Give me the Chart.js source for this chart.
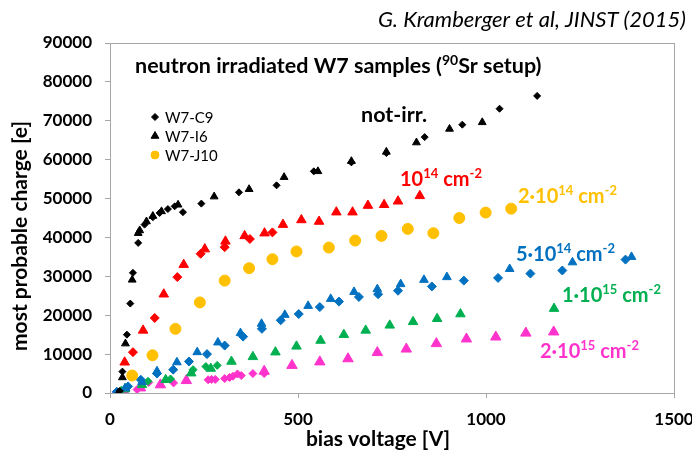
<!DOCTYPE html>
<html>
<head>
<meta charset="utf-8">
<script src="https://cdn.jsdelivr.net/npm/chart.js@4.4.1/dist/chart.umd.min.js"></script>
<style>
  html, body { margin: 0; padding: 0; background: #fff; }
  #wrap { width: 692px; height: 453px; }
</style>
</head>
<body>
<div id="wrap"><canvas id="myChart" width="692" height="453"></canvas></div>
<script>
// W7-C9 (diamonds) and W7-I6 (triangles), per fluence; W7-J10 (circles) only at 2e14
const c9NotIrrV = [26, 33, 45, 54, 61, 75, 92, 114, 132, 154, 172, 194, 243, 343, 443, 542, 642, 735, 837, 937, 1036, 1136];
const c9NotIrrQ = [500, 5500, 15000, 23000, 30900, 38600, 43300, 45200, 46300, 47300, 48000, 46500, 48700, 51600, 53400, 57000, 59300, 61700, 65800, 69000, 73100, 76400];
const i6NotIrrV = [22, 33, 41, 59, 75, 79, 97, 114, 137, 181, 277, 370, 463, 553, 642, 735, 815, 903, 990];
const i6NotIrrQ = [0, 4000, 12700, 29100, 41100, 41800, 44100, 45500, 46700, 48400, 50500, 52400, 55500, 57000, 59600, 62000, 64400, 67900, 69600];

const c9F1e14V = [61, 119, 179, 241, 305, 372, 432];
const c9F1e14Q = [10500, 19300, 29800, 35800, 37500, 39600, 41300];
const i6F1e14V = [39, 88, 143, 196, 252, 307, 358, 411, 460, 509, 556, 602, 645, 686, 729, 766, 824];
const i6F1e14Q = [7900, 16100, 25400, 33000, 37000, 39000, 40400, 41100, 43300, 44500, 44100, 46500, 46500, 48200, 48400, 49300, 50700];

const j10F2e14V = [59, 113, 174, 239, 305, 370, 432, 496, 582, 652, 722, 792, 860, 929, 999, 1067];
const j10F2e14Q = [4500, 9700, 16500, 23300, 28900, 32100, 34400, 36400, 37400, 39200, 40400, 42200, 41100, 45000, 46400, 47400];

const c9F5e14V = [18, 48, 82, 125, 168, 210, 258, 305, 354, 404, 454, 502, 558, 609, 662, 713, 766, 856, 941, 1032, 1118, 1203, 1371];
const c9F5e14Q = [300, 1700, 3400, 5000, 6000, 8100, 10000, 12200, 14500, 16500, 18700, 20300, 22100, 23500, 24700, 25400, 26300, 27400, 28900, 29600, 30700, 31500, 34300];
const i6F5e14V = [40, 85, 125, 178, 232, 287, 347, 403, 465, 527, 587, 649, 711, 773, 835, 896, 1063, 1230, 1387];
const i6F5e14Q = [1200, 2800, 5600, 7900, 10500, 13000, 15400, 17800, 20100, 22400, 24200, 26000, 26700, 28000, 29100, 29800, 31900, 33600, 35000];

const c9F1e15V = [30, 101, 161, 221, 255, 285];
const c9F1e15Q = [700, 3000, 3600, 6000, 6800, 7100];
const i6F1e15V = [40, 85, 148, 216, 268, 323, 380, 440, 496, 560, 622, 680, 744, 806, 870, 932, 1181];
const i6F1e15Q = [1000, 2100, 3400, 5100, 6300, 8100, 9300, 10500, 12000, 13500, 15000, 16100, 17400, 18300, 19100, 20300, 21700];

const c9F2e15V = [17, 42, 72, 103, 169, 261, 270, 280, 305, 318, 327, 339, 349, 380, 410];
const c9F2e15Q = [300, 600, 900, 2700, 2600, 3400, 3500, 3500, 3700, 4000, 4300, 4900, 4500, 5000, 5000];
const i6F2e15V = [81, 134, 203, 410, 484, 558, 633, 711, 788, 868, 948, 1026, 1106, 1180];
const i6F2e15Q = [1300, 2100, 3200, 5600, 7100, 8000, 8800, 10400, 11300, 12700, 13900, 14400, 15400, 15700];

const xTicks = [0, 500, 1000, 1500];
const yTicks = [0, 10000, 20000, 30000, 40000, 50000, 60000, 70000, 80000, 90000];

const FONT = 'Lato, "DejaVu Sans", sans-serif';

function pts(xs, ys) {
    return xs.map((v, i) => ({ x: v, y: ys[i] }));
}

function ds(label, xs, ys, color, style, radius) {
    return {
        label: label,
        data: pts(xs, ys),
        pointStyle: style,
        pointRadius: radius,
        pointHoverRadius: radius,
        backgroundColor: color,
        borderColor: color,
        borderWidth: 1,
        showLine: false
    };
}

const datasets = [
    ds('W7-C9 not-irr.', c9NotIrrV, c9NotIrrQ, '#000000', 'rectRot', 3.5),
    ds('W7-I6 not-irr.', i6NotIrrV, i6NotIrrQ, '#000000', 'triangle', 4.5),
    ds('W7-C9 1e14', c9F1e14V, c9F1e14Q, '#ff0000', 'rectRot', 4.5),
    ds('W7-I6 1e14', i6F1e14V, i6F1e14Q, '#ff0000', 'triangle', 5.5),
    ds('W7-J10 2e14', j10F2e14V, j10F2e14Q, '#ffc000', 'circle', 5.5),
    ds('W7-C9 5e14', c9F5e14V, c9F5e14Q, '#0070c0', 'rectRot', 4.5),
    ds('W7-I6 5e14', i6F5e14V, i6F5e14Q, '#0070c0', 'triangle', 5),
    ds('W7-C9 1e15', c9F1e15V, c9F1e15Q, '#00b050', 'rectRot', 4),
    ds('W7-I6 1e15', i6F1e15V, i6F1e15Q, '#00b050', 'triangle', 5.5),
    ds('W7-C9 2e15', c9F2e15V, c9F2e15Q, '#ff33cc', 'rectRot', 4),
    ds('W7-I6 2e15', i6F2e15V, i6F2e15Q, '#ff33cc', 'triangle', 6)
];

// draws text made of normal and superscript pieces
function drawRich(ctx, x, y, parts, size, color, weight) {
    let cx = x;
    ctx.fillStyle = color;
    ctx.textBaseline = 'alphabetic';
    ctx.textAlign = 'left';
    parts.forEach(p => {
        const s = p.sup ? Math.round(size * 0.64) : size;
        ctx.font = weight + ' ' + s + 'px ' + FONT;
        ctx.fillText(p.t, cx, p.sup ? y - size * 0.38 : y);
        cx += ctx.measureText(p.t).width;
    });
}

const annotations = {
    id: 'annotations',
    afterDraw(chart) {
        const ctx = chart.ctx;
        const a = chart.chartArea;
        ctx.save();
        // box round the plot area
        ctx.strokeStyle = '#a6a6a6';
        ctx.lineWidth = 1;
        ctx.strokeRect(a.left + 0.5, a.top + 0.5, a.right - a.left, a.bottom - a.top);

        ctx.font = 'italic 22px ' + FONT;
        ctx.fillStyle = '#000';
        ctx.textAlign = 'right';
        ctx.textBaseline = 'alphabetic';
        ctx.fillText('G. Kramberger et al, JINST (2015)', 686, 27);

        // axis titles
        ctx.font = 'bold 21px ' + FONT;
        ctx.textAlign = 'center';
        ctx.textBaseline = 'middle';
        ctx.fillText('bias voltage [V]', 378, 439);
        ctx.save();
        ctx.translate(20, 236);
        ctx.rotate(-Math.PI / 2);
        ctx.fillText('most probable charge [e]', 0, 0);
        ctx.restore();

        drawRich(ctx, 135, 73, [{ t: 'neutron irradiated W7 samples (' }, { t: '90', sup: true }, { t: 'Sr setup)' }], 21.5, '#000', 'bold');
        drawRich(ctx, 361, 122, [{ t: 'not-irr.' }], 21.5, '#000', 'bold');
        drawRich(ctx, 400, 186, [{ t: '10' }, { t: '14', sup: true }, { t: ' cm' }, { t: '-2', sup: true }], 20, '#ff0000', 'bold');
        drawRich(ctx, 518, 203, [{ t: '2·10' }, { t: '14', sup: true }, { t: ' cm' }, { t: '-2', sup: true }], 20, '#ffc000', 'bold');
        drawRich(ctx, 516, 261, [{ t: '5·10' }, { t: '14', sup: true }, { t: ' cm' }, { t: '-2', sup: true }], 20, '#0070c0', 'bold');
        drawRich(ctx, 562, 302, [{ t: '1·10' }, { t: '15', sup: true }, { t: ' cm' }, { t: '-2', sup: true }], 20, '#00b050', 'bold');
        drawRich(ctx, 540, 358, [{ t: '2·10' }, { t: '15', sup: true }, { t: ' cm' }, { t: '-2', sup: true }], 20, '#ff33cc', 'bold');

        // legend for the sample shapes
        const leg = [
            { name: 'W7-C9', style: 'rectRot', color: '#000', r: 3.5, y: 117 },
            { name: 'W7-I6', style: 'triangle', color: '#000', r: 4.5, y: 136 },
            { name: 'W7-J10', style: 'circle', color: '#ffc000', r: 4, y: 155 }
        ];
        leg.forEach(l => {
            ctx.fillStyle = l.color;
            ctx.strokeStyle = l.color;
            Chart.helpers.drawPoint(ctx, { pointStyle: l.style, radius: l.r, borderWidth: 1 }, 155, l.y);
            ctx.font = '15px ' + FONT;
            ctx.fillStyle = '#000';
            ctx.textAlign = 'left';
            ctx.textBaseline = 'middle';
            ctx.fillText(l.name, 165, l.y + 1);
        });
        ctx.restore();
    }
};

const ctx = document.getElementById('myChart');
new Chart(ctx, {
    type: 'scatter',
    data: { datasets: datasets },
    options: {
        responsive: false,
        animation: false,
        events: [],
        layout: { padding: { left: 0, top: 43, right: 18, bottom: 0 } },
        plugins: {
            legend: { display: false },
            tooltip: { enabled: false }
        },
        scales: {
            x: {
                type: 'linear',
                min: 0,
                max: 1500,
                afterBuildTicks: s => { s.ticks = xTicks.map(v => ({ value: v })); },
                afterFit: s => { s.height = 60; s.paddingLeft = 0; s.paddingRight = 0; },
                grid: { drawOnChartArea: false, tickLength: 5, color: '#a6a6a6' },
                border: { color: '#a6a6a6' },
                ticks: { color: '#000', font: { family: FONT, size: 17, weight: 'bold' }, padding: 11, callback: v => String(v) }
            },
            y: {
                type: 'linear',
                min: 0,
                max: 90000,
                afterBuildTicks: s => { s.ticks = yTicks.map(v => ({ value: v })); },
                afterFit: s => { s.width = 110; s.paddingTop = 0; s.paddingBottom = 0; },
                grid: { drawOnChartArea: false, tickLength: 5, color: '#a6a6a6' },
                border: { color: '#a6a6a6' },
                ticks: { color: '#000', font: { family: FONT, size: 17, weight: 'bold' }, padding: 13, callback: v => String(v) }
            }
        }
    },
    plugins: [annotations]
});
</script>
</body>
</html>
